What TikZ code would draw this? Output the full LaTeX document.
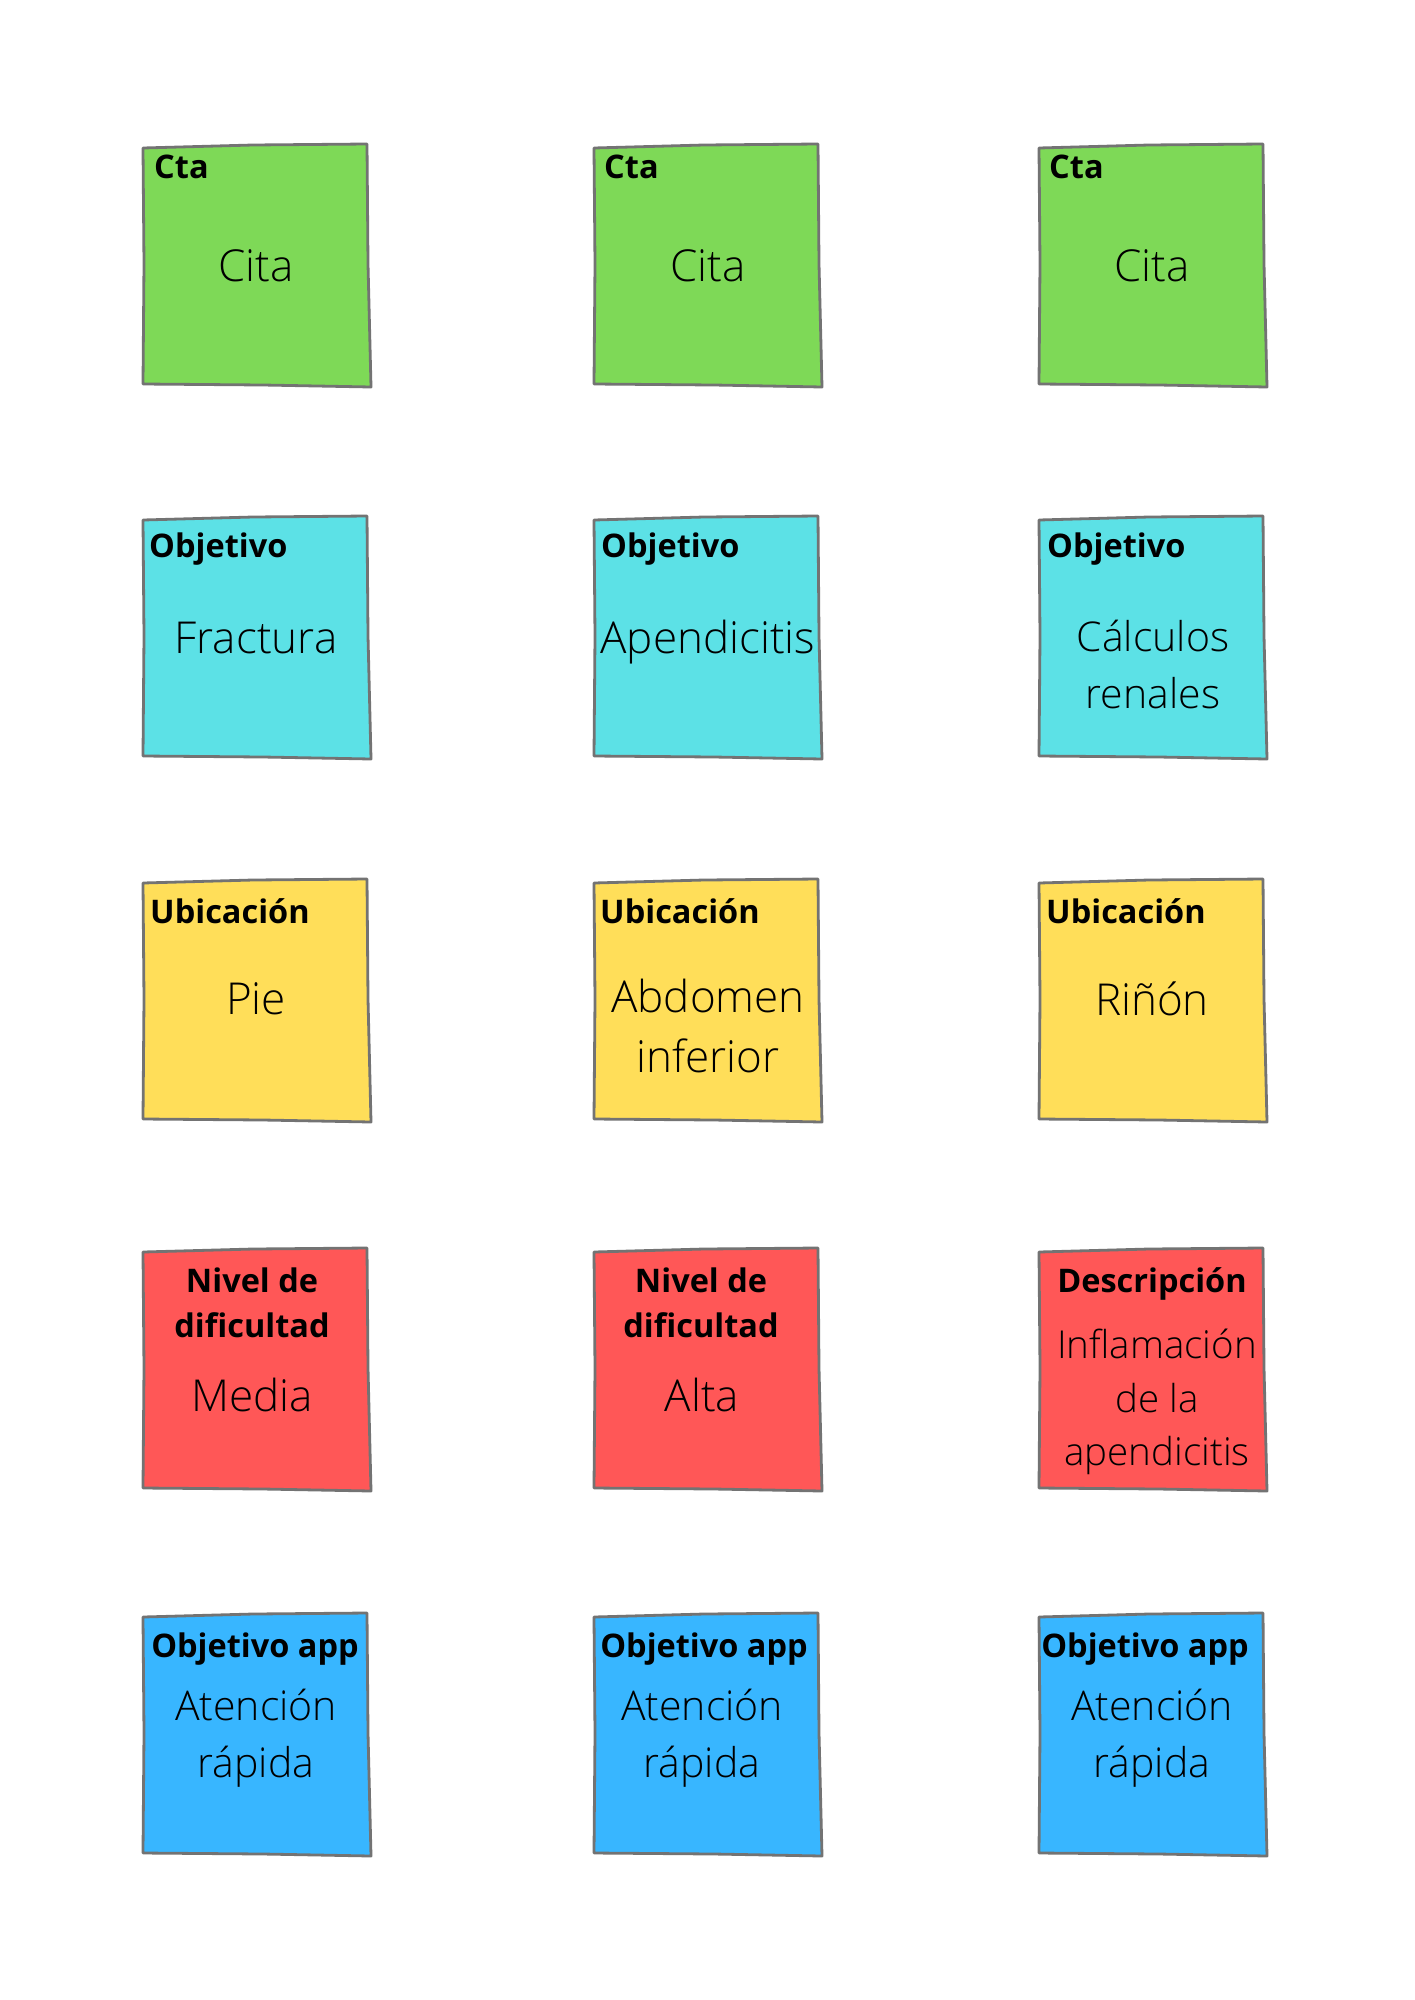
\documentclass[tikz,border=0pt]{standalone}
\usepackage{fontspec}
\setmainfont{Open Sans}
\newfontfamily\lightfont{Open Sans Light}
\usetikzlibrary{positioning}

\definecolor{notegreen}{HTML}{7ED957}
\definecolor{notecyan}{HTML}{5CE1E6}
\definecolor{noteyellow}{HTML}{FFDE59}
\definecolor{notered}{HTML}{FF5757}
\definecolor{noteblue}{HTML}{38B6FF}
\definecolor{notegray}{HTML}{737373}

\tikzset{
  notebox/.style={draw=notegray, line width=2.8pt, line join=round},
  notetitle/.style={font=\bfseries\fontsize{32.5}{45}\selectfont, inner sep=0pt, align=center},
  notetext/.style={font=\lightfont\fontsize{44}{60}\selectfont, inner sep=0pt, align=center},
  notesmall/.style={notetext, font=\lightfont\fontsize{41}{57}\selectfont},
  notetiny/.style={notetext, font=\lightfont\fontsize{38.5}{53.5}\selectfont}
}

% sticky note: name, left x, top y, colour
\newcommand{\sticky}[4]{%
  \filldraw[notebox, fill=#4] (#2,#3+4) -- (#2+110,#3+1) -- (#2+224,#3) -- (#2+225,#3+120)
    -- (#2+228,#3+243) -- (#2+120,#3+241) -- (#2,#3+240) -- (#2+1,#3+120) -- cycle;
  \coordinate (#1) at (#2,#3);
}

\begin{document}
\begin{tikzpicture}[x=1pt,y=-1pt]
\useasboundingbox[fill=white] (0,0) rectangle (1414,2000);

% Row 1: Cta
\sticky{c1}{143}{144}{notegreen}
\sticky{c2}{594}{144}{notegreen}
\sticky{c3}{1039}{144}{notegreen}
\node[notetitle, anchor=west] (c1t) at (154,167) {Cta};
\node[notetitle, anchor=west] (c2t) at (604,167) {Cta};
\node[notetitle, anchor=west] (c3t) at (1049,167) {Cta};
\node[notetext] (c1b) at (256,266) {Cita};
\node[notetext] (c2b) at (708,266) {Cita};
\node[notetext] (c3b) at (1152,266) {Cita};

% Row 2: Objetivo
\sticky{o1}{143}{516}{notecyan}
\sticky{o2}{594}{516}{notecyan}
\sticky{o3}{1039}{516}{notecyan}
\node[notetitle, anchor=west] (o1t) at (149,549) {Objetivo};
\node[notetitle, anchor=west] (o2t) at (601,549) {Objetivo};
\node[notetitle, anchor=west] (o3t) at (1047,549) {Objetivo};
\node[notetext] (o1b) at (256,638) {Fractura};
\node[notetext] (o2b) at (708,642) {Apendicitis};
\node[notesmall] (o3b) at (1153,664) {Cálculos\\renales};

% Row 3: Ubicacion
\sticky{u1}{143}{879}{noteyellow}
\sticky{u2}{594}{879}{noteyellow}
\sticky{u3}{1039}{879}{noteyellow}
\node[notetitle, anchor=west] (u1t) at (150,911) {Ubicación};
\node[notetitle, anchor=west] (u2t) at (600,911) {Ubicación};
\node[notetitle, anchor=west] (u3t) at (1046,911) {Ubicación};
\node[notetext] (u1b) at (256,999) {Pie};
\node[notetext] (u2b) at (708,1026) {Abdomen\\inferior};
\node[notetext] (u3b) at (1152,999) {Riñón};

% Row 4: dificultad / descripcion
\sticky{d1}{143}{1248}{notered}
\sticky{d2}{594}{1248}{notered}
\sticky{d3}{1039}{1248}{notered}
\node[notetitle] (d1t) at (252,1303) {Nivel de\\dificultad};
\node[notetitle] (d2t) at (701,1303) {Nivel de\\dificultad};
\node[notetitle] (d3t) at (1152,1284) {Descripción};
\node[notetext] (d1b) at (252,1395) {Media};
\node[notetext] (d2b) at (702,1395) {Alta};
\node[notetiny] (d3b) at (1157,1402) {Inflamación\\de la\\apendicitis};

% Row 5: Objetivo app
\sticky{a1}{143}{1613}{noteblue}
\sticky{a2}{594}{1613}{noteblue}
\sticky{a3}{1039}{1613}{noteblue}
\node[notetitle] (a1t) at (255,1649) {Objetivo app};
\node[notetitle] (a2t) at (704,1649) {Objetivo app};
\node[notetitle] (a3t) at (1145,1649) {Objetivo app};
\node[notesmall] (a1b) at (256,1738) {Atención\\rápida};
\node[notesmall] (a2b) at (702,1738) {Atención\\rápida};
\node[notesmall] (a3b) at (1152,1738) {Atención\\rápida};
\end{tikzpicture}
\end{document}
